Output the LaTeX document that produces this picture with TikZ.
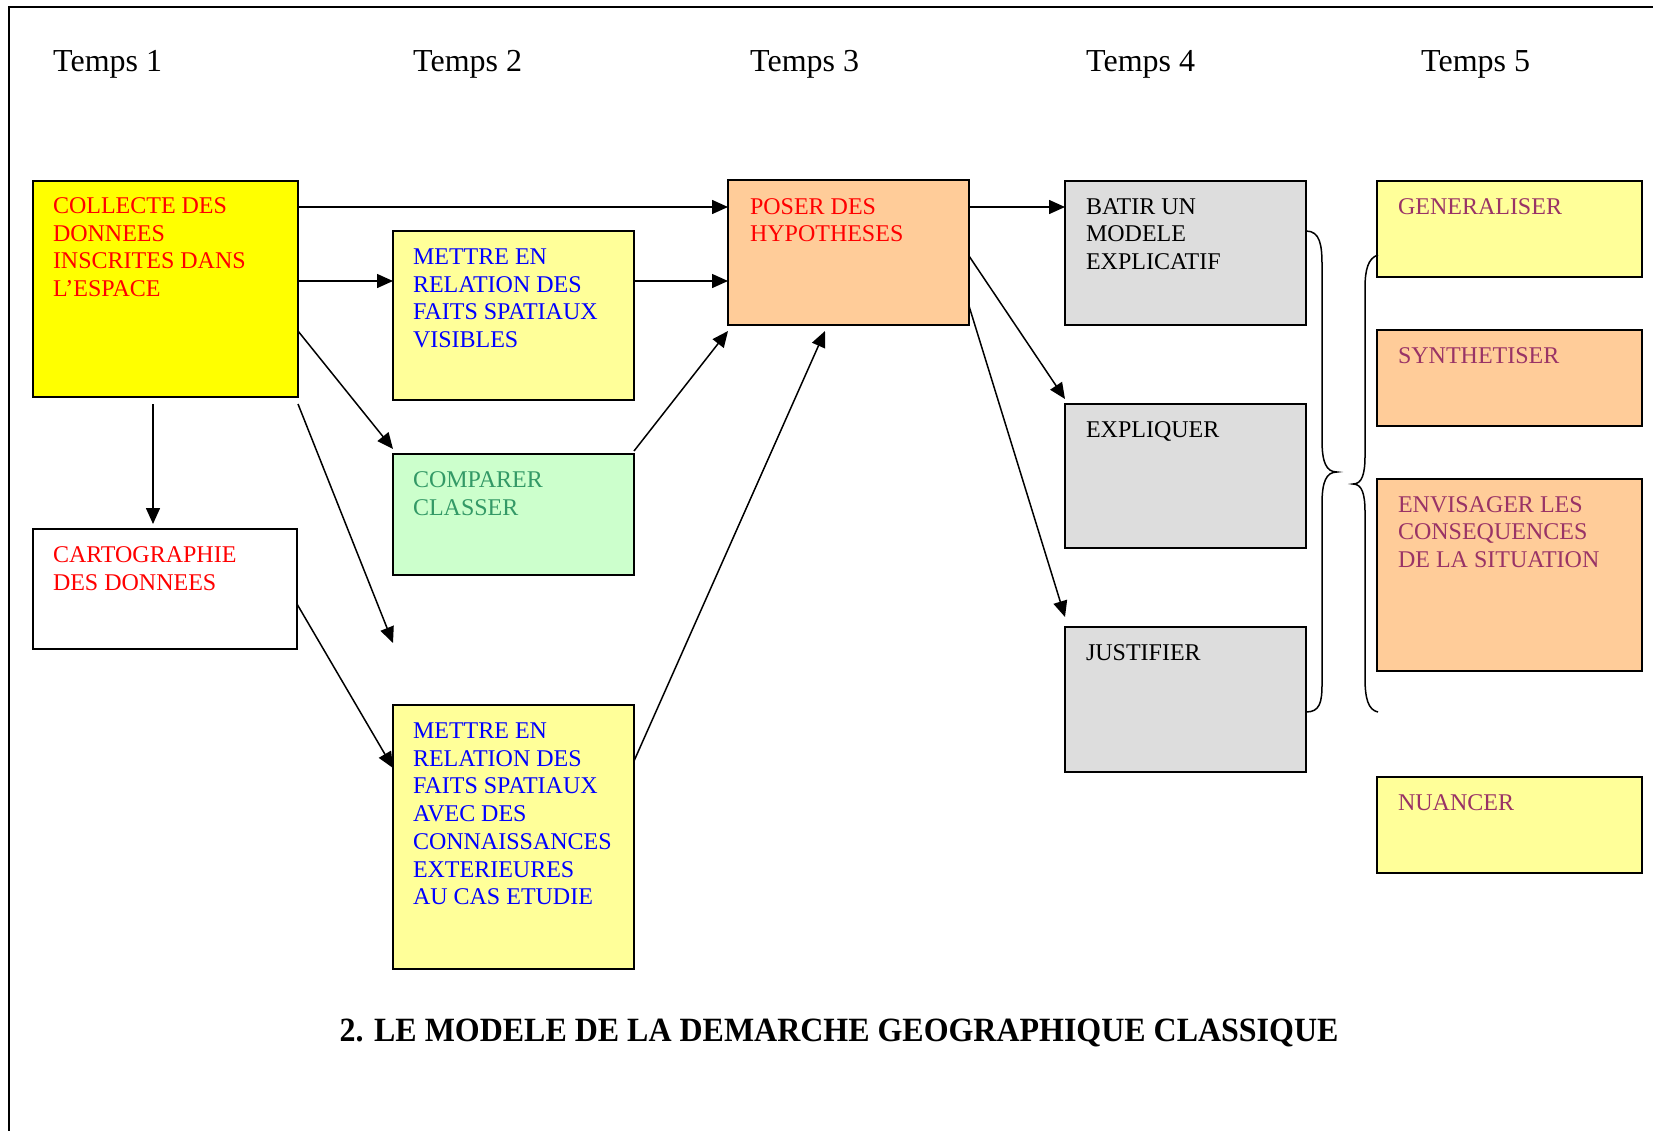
\documentclass[tikz,border=0pt]{standalone}
\usepackage{fontspec}
\setmainfont{Liberation Serif}
\usetikzlibrary{arrows.meta,calc}
\definecolor{ylw}{HTML}{FFFF00}
\definecolor{lyl}{HTML}{FFFF99}
\definecolor{lor}{HTML}{FFCC99}
\definecolor{lgr}{HTML}{CCFFCC}
\definecolor{gry}{HTML}{DDDDDD}
\definecolor{tred}{HTML}{FF0000}
\definecolor{tblu}{HTML}{0000FF}
\definecolor{tgrn}{HTML}{339966}
\definecolor{tplm}{HTML}{993366}
\tikzset{
  bx/.style={draw=black, line width=1.6pt, rectangle, anchor=north west, inner sep=0pt, outer sep=0pt},
  tx/.style={anchor=base west, inner sep=0pt, outer sep=0pt, font=\fontsize{24}{27.7}\selectfont},
  tm/.style={anchor=base west, inner sep=0pt, font=\fontsize{32}{36}\selectfont},
  arr/.style={line width=1.5pt, -{Triangle[length=16pt,width=14pt]}},
  brc/.style={line width=1.5pt},
}
\newcommand{\bxtext}[1]{\parbox[t]{240pt}{\raggedright #1}}
\begin{document}
\begin{tikzpicture}[x=1pt,y=-1pt]
\useasboundingbox (0,0) rectangle (1653,1130);
% frame
\draw[line width=1.5pt] (1660,7) -- (9,7) -- (9,1140);
% time labels
\node[tm] (t1) at (53,71) {Temps 1};
\node[tm] (t2) at (413,71) {Temps 2};
\node[tm] (t3) at (750,71) {Temps 3};
\node[tm] (t4) at (1086,71) {Temps 4};
\node[tm] (t5) at (1421,71) {Temps 5};
% boxes
\node[bx, fill=ylw, minimum width=265pt, minimum height=216pt] (A) at (33,181) {};
\node[bx, fill=lyl, minimum width=241pt, minimum height=169pt] (B) at (393,231) {};
\node[bx, fill=lgr, minimum width=241pt, minimum height=121pt] (C) at (393,454) {};
\node[bx, fill=white, minimum width=264pt, minimum height=120pt] (D) at (33,529) {};
\node[bx, fill=lyl, minimum width=241pt, minimum height=264pt] (E) at (393,705) {};
\node[bx, fill=lor, minimum width=241pt, minimum height=145pt] (F) at (728,180) {};
\node[bx, fill=gry, minimum width=241pt, minimum height=144pt] (G) at (1065,181) {};
\node[bx, fill=gry, minimum width=241pt, minimum height=144pt] (H) at (1065,404) {};
\node[bx, fill=gry, minimum width=241pt, minimum height=145pt] (I) at (1065,627) {};
\node[bx, fill=lyl, minimum width=265pt, minimum height=96pt] (J) at (1377,181) {};
\node[bx, fill=lor, minimum width=265pt, minimum height=96pt] (K) at (1377,330) {};
\node[bx, fill=lor, minimum width=265pt, minimum height=192pt] (L) at (1377,479) {};
\node[bx, fill=lyl, minimum width=265pt, minimum height=96pt] (M) at (1377,777) {};
% texts
\node[tx, text=tred] (At) at ($(A.north west)+(20,32.5)$) {\bxtext{COLLECTE DES\\DONNEES\\INSCRITES DANS\\L’ESPACE}};
\node[tx, text=tblu] (Bt) at ($(B.north west)+(20,33.5)$) {\bxtext{METTRE EN\\RELATION DES\\FAITS SPATIAUX\\VISIBLES}};
\node[tx, text=tgrn] (Ct) at ($(C.north west)+(20,33.5)$) {\bxtext{COMPARER\\CLASSER}};
\node[tx, text=tred] (Dt) at ($(D.north west)+(20,33.5)$) {\bxtext{CARTOGRAPHIE\\DES DONNEES}};
\node[tx, text=tblu] (Et) at ($(E.north west)+(20,33.5)$) {\bxtext{METTRE EN\\RELATION DES\\FAITS SPATIAUX\\AVEC DES\\CONNAISSANCES\\EXTERIEURES\\AU CAS ETUDIE}};
\node[tx, text=tred] (Ft) at ($(F.north west)+(22,34)$) {\bxtext{POSER DES\\HYPOTHESES}};
\node[tx, text=black] (Gt) at ($(G.north west)+(21,33)$) {\bxtext{BATIR UN\\MODELE\\EXPLICATIF}};
\node[tx, text=black] (Ht) at ($(H.north west)+(21,33)$) {\bxtext{EXPLIQUER}};
\node[tx, text=black] (It) at ($(I.north west)+(21,33)$) {\bxtext{JUSTIFIER}};
\node[tx, text=tplm] (Jt) at ($(J.north west)+(21,33)$) {\bxtext{GENERALISER}};
\node[tx, text=tplm] (Kt) at ($(K.north west)+(21,33)$) {\bxtext{SYNTHETISER}};
\node[tx, text=tplm] (Lt) at ($(L.north west)+(21,33)$) {\bxtext{ENVISAGER LES\\CONSEQUENCES\\DE LA SITUATION}};
\node[tx, text=tplm] (Mt) at ($(M.north west)+(21,33)$) {\bxtext{NUANCER}};
% arrows
\coordinate (q) at ($(C.south west)+(0,68)$);
\draw[arr] ($(A.north east)+(0,26)$) -- ($(F.north west)+(0,27)$);
\draw[arr] ($(A.north east)+(0,100)$) -- ($(B.north west)+(0,50)$);
\draw[arr] ($(B.north east)+(0,50)$) -- ($(F.north west)+(0,101)$);
\draw[arr] ($(A.north east)+(0,150)$) -- ($(C.north west)+(0,-5)$);
\draw[arr] ($(A.south)+(-12.5,7)$) -- ($(D.north)+(-12,-5)$);
\draw[arr] ($(A.south east)+(0,7)$) -- (q);
\draw[arr] ($(D.north east)+(0,75)$) -- ($(E.north west)+(0,63)$);
\draw[arr] ($(C.north east)+(0,-3)$) -- ($(F.south west)+(0,6)$);
\draw[arr] ($(E.north east)+(0,56)$) -- ($(F.south west)+(97,6)$);
\draw[arr] ($(F.north east)+(0,27)$) -- ($(G.north west)+(0,26)$);
\draw[arr] ($(F.north east)+(0,76)$) -- ($(H.north west)+(0,-5)$);
\draw[arr] ($(F.north east)+(0,126)$) -- ($(I.north west)+(0,-10)$);
% braces
\draw[brc] (1306,231) .. controls (1320,231) and (1322,245) .. (1322,265) -- (1322,440)
  .. controls (1322,462) and (1326,472) .. (1337,472)
  .. controls (1326,472) and (1322,482) .. (1322,504) -- (1322,684)
  .. controls (1322,702) and (1320,712) .. (1306,712);
\draw[brc] (1378,255) .. controls (1368,258) and (1365,270) .. (1365,288) -- (1365,456)
  .. controls (1365,474) and (1362,484) .. (1353,484)
  .. controls (1362,484) and (1365,494) .. (1365,512) -- (1365,678)
  .. controls (1365,698) and (1368,710) .. (1378,712);
% title
\node[anchor=base, inner sep=0pt, font=\fontsize{34}{40}\selectfont\bfseries] (title) at (839,1041) {\scalebox{0.94}[1]{2. LE MODELE DE LA DEMARCHE GEOGRAPHIQUE CLASSIQUE}};
\end{tikzpicture}
\end{document}
